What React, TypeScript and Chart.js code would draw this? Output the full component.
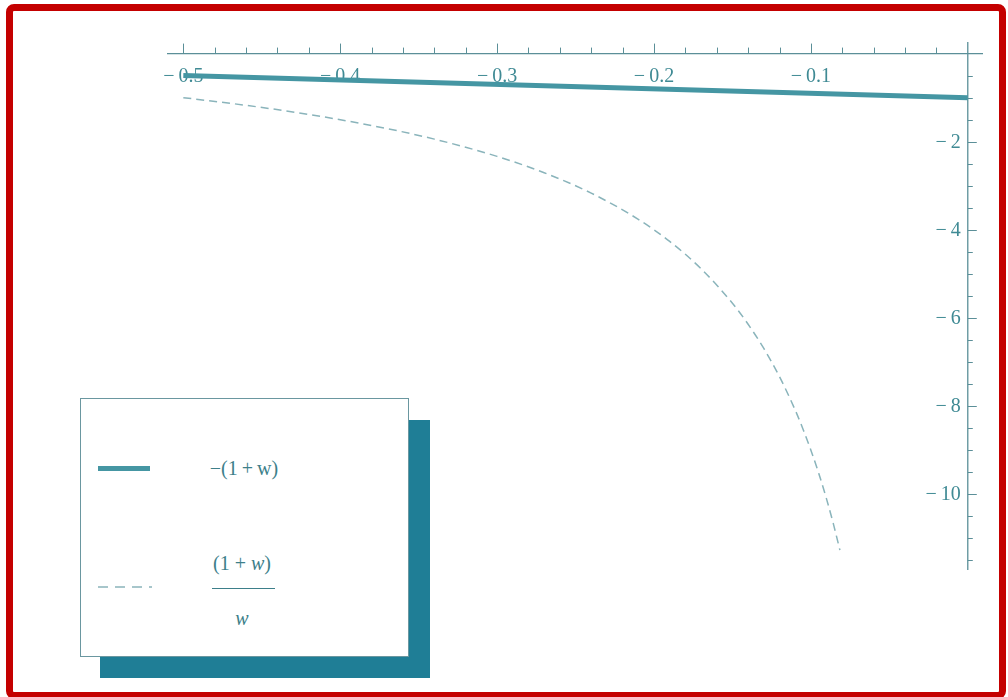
import React, { useEffect, useRef } from "react";
import Chart from "chart.js/auto";

// ---- data ----
const solidW = [-0.5, 0];
const solidValues = [-0.5, -1];

const dashedW = [
  -0.5, -0.46, -0.42, -0.38, -0.34, -0.3, -0.27, -0.24, -0.21, -0.19, -0.17,
  -0.15, -0.14, -0.13, -0.12, -0.11, -0.105, -0.1, -0.095, -0.09, -0.0855, -0.0815,
];
const dashedValues = [
  -1, -1.174, -1.381, -1.632, -1.941, -2.333, -2.704, -3.167, -3.762, -4.263,
  -4.882, -5.667, -6.143, -6.692, -7.333, -8.091, -8.524, -9, -9.526, -10.111,
  -10.696, -11.27,
];

const xMajorTicks = [-0.5, -0.4, -0.3, -0.2, -0.1];
const xTickLabels = ["\u2212\u20090.5", "\u2212\u20090.4", "\u2212\u20090.3", "\u2212\u20090.2", "\u2212\u20090.1"];
const yMajorTicks = [-2, -4, -6, -8, -10];
const yTickLabels = ["\u2212\u20092", "\u2212\u20094", "\u2212\u20096", "\u2212\u20098", "\u2212\u200910"];
const X_MINOR_STEP = 0.02;
const Y_MINOR_STEP = 0.5;

const X_MIN = -0.5104;
const X_MAX = 0.0097;
const Y_MIN = -11.72;
const Y_MAX = 0.263;

const AXIS_COLOR = "#5b8f98";
const LABEL_COLOR = "#3f8a94";
const SOLID_COLOR = "#4596a3";
const DASH_COLOR = "#8ab4bb";
const SHADOW_COLOR = "#1f7e96";
const LEGEND_TEXT = "#3d7f8a";

const axesPlugin = {
  id: "mathAxes",
  beforeDatasetsDraw(chart: any) {
    const { ctx, chartArea, scales } = chart;
    const xs = scales.x;
    const ys = scales.y;
    const y0 = ys.getPixelForValue(0);
    const x0 = xs.getPixelForValue(0);
    ctx.save();
    ctx.strokeStyle = AXIS_COLOR;
    ctx.lineWidth = 1.3;
    ctx.beginPath();
    ctx.moveTo(chartArea.left, y0);
    ctx.lineTo(chartArea.right, y0);
    ctx.moveTo(x0, chartArea.top);
    ctx.lineTo(x0, chartArea.bottom);
    ctx.stroke();

    ctx.lineWidth = 1;
    ctx.beginPath();
    // x ticks (pointing up)
    xMajorTicks.forEach((v) => {
      const px = Math.round(xs.getPixelForValue(v)) + 0.5;
      ctx.moveTo(px, y0);
      ctx.lineTo(px, y0 - 10);
    });
    for (let i = 1; i < 25; i++) {
      const v = -0.5 + i * X_MINOR_STEP;
      if (xMajorTicks.some((m) => Math.abs(m - v) < 1e-6)) continue;
      const px = Math.round(xs.getPixelForValue(v)) + 0.5;
      ctx.moveTo(px, y0);
      ctx.lineTo(px, y0 - 6);
    }
    // y ticks (pointing right)
    yMajorTicks.forEach((v) => {
      const py = Math.round(ys.getPixelForValue(v)) + 0.5;
      ctx.moveTo(x0, py);
      ctx.lineTo(x0 + 9, py);
    });
    for (let i = 1; i <= 23; i++) {
      const v = -i * Y_MINOR_STEP;
      if (yMajorTicks.some((m) => Math.abs(m - v) < 1e-6)) continue;
      const py = Math.round(ys.getPixelForValue(v)) + 0.5;
      ctx.moveTo(x0, py);
      ctx.lineTo(x0 + 5, py);
    }
    ctx.stroke();

    ctx.fillStyle = LABEL_COLOR;
    ctx.font = '20px "Liberation Serif"';
    ctx.textAlign = "center";
    ctx.textBaseline = "middle";
    xMajorTicks.forEach((v, i) => {
      ctx.fillText(xTickLabels[i], xs.getPixelForValue(v), y0 + 23);
    });
    ctx.textAlign = "right";
    yMajorTicks.forEach((v, i) => {
      ctx.fillText(yTickLabels[i], x0 - 7, ys.getPixelForValue(v) + 1);
    });
    ctx.restore();
  },
};

export default function App() {
  const canvasRef = useRef<HTMLCanvasElement | null>(null);

  useEffect(() => {
    if (!canvasRef.current) return;
    const chart = new Chart(canvasRef.current, {
      type: "line",
      data: {
        datasets: [
          {
            label: "-(1+w)",
            data: solidW.map((w, i) => ({ x: w, y: solidValues[i] })),
            borderColor: SOLID_COLOR,
            borderWidth: 5,
            pointRadius: 0,
            fill: false,
          },
          {
            label: "(1+w)/w",
            data: dashedW.map((w, i) => ({ x: w, y: dashedValues[i] })),
            borderColor: DASH_COLOR,
            borderWidth: 1.5,
            borderDash: [8, 5],
            pointRadius: 0,
            cubicInterpolationMode: "monotone",
            fill: false,
          },
        ],
      },
      options: {
        responsive: false,
        animation: false,
        devicePixelRatio: 1,
        layout: { padding: { left: 167, right: 25, top: 42, bottom: 127 } },
        plugins: { legend: { display: false }, tooltip: { enabled: false }, title: { display: false } },
        scales: {
          x: { type: "linear", min: X_MIN, max: X_MAX, display: false },
          y: { type: "linear", min: Y_MIN, max: Y_MAX, display: false },
        },
      },
      plugins: [axesPlugin],
    });
    return () => chart.destroy();
  }, []);

  const serif = '"Liberation Serif", "Times New Roman", serif';

  return (
    <div style={{ position: "fixed", left: 0, top: 0, width: 1008, height: 697, background: "#ffffff", overflow: "hidden" }}>
      <canvas ref={canvasRef} width={1008} height={697} style={{ position: "absolute", left: 0, top: 0 }} />
      {/* red frame */}
      <div
        style={{
          position: "absolute",
          left: 6,
          top: 4,
          width: 1000,
          height: 695,
          border: "7px solid #c40000",
          borderRadius: 8,
          boxSizing: "border-box",
          pointerEvents: "none",
        }}
      />
      {/* legend shadow */}
      <div style={{ position: "absolute", left: 100, top: 420, width: 330, height: 258, background: SHADOW_COLOR }} />
      {/* legend box */}
      <div
        style={{
          position: "absolute",
          left: 80,
          top: 398,
          width: 329,
          height: 259,
          background: "#ffffff",
          border: "1.5px solid #6a97a0",
          boxSizing: "border-box",
        }}
      />
      <div style={{ position: "absolute", left: 98, top: 466, width: 52, height: 5, background: SOLID_COLOR }} />
      <div
        style={{
          position: "absolute",
          left: 190,
          width: 108,
          top: 456,
          height: 24,
          lineHeight: "24px",
          textAlign: "center",
          fontFamily: serif,
          fontSize: 20,
          color: LEGEND_TEXT,
          whiteSpace: "nowrap",
        }}
      >
        {"\u2212(1\u2009+\u2009w)"}
      </div>
      <svg style={{ position: "absolute", left: 96, top: 582 }} width={60} height={10}>
        <line x1={2} y1={5} x2={56} y2={5} stroke={DASH_COLOR} strokeWidth={1.5} strokeDasharray="10 7" />
      </svg>
      <div
        style={{
          position: "absolute",
          left: 190,
          width: 104,
          top: 551,
          height: 24,
          lineHeight: "24px",
          textAlign: "center",
          fontFamily: serif,
          fontSize: 20,
          color: LEGEND_TEXT,
          whiteSpace: "nowrap",
        }}
      >
        (1 + <i>w</i>)
      </div>
      <div style={{ position: "absolute", left: 212, top: 588, width: 63, height: 1.3, background: LEGEND_TEXT }} />
      <div
        style={{
          position: "absolute",
          left: 190,
          width: 104,
          top: 606,
          height: 24,
          lineHeight: "24px",
          textAlign: "center",
          fontFamily: serif,
          fontSize: 20,
          fontStyle: "italic",
          color: LEGEND_TEXT,
        }}
      >
        w
      </div>
    </div>
  );
}
